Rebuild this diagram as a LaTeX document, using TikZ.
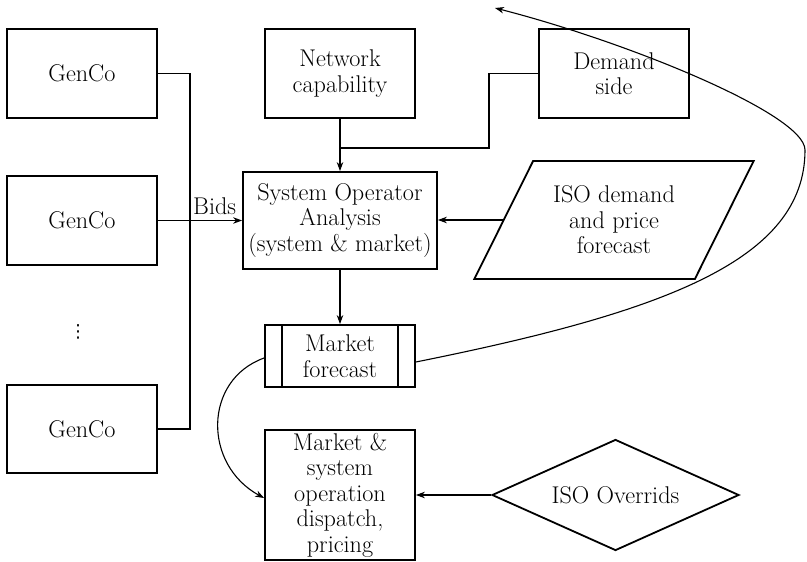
\documentclass[tikz,border=0pt]{standalone}
\usepackage{fontspec}
\usetikzlibrary{arrows.meta,shapes.geometric}
\newfontfamily\dotsfont{DejaVu Sans}
\newcommand{\diagfont}{\fontsize{24.2}{25.5}\selectfont}
\begin{document}
\begin{tikzpicture}[x=1pt,y=-1pt,
  box/.style={draw,line width=1.8pt,minimum width=150pt,minimum height=89pt,align=center,inner sep=0pt,font=\diagfont},
  conn/.style={line width=1.1pt},
  arr/.style={conn,-{Stealth[length=9pt,width=6.5pt]}}]
\useasboundingbox (0,0) rectangle (807,562);
% nodes
\node[box] (g1) at (82,73.5) {GenCo};
\node[box] (g2) at (82,220.5) {GenCo};
\node[box,minimum height=88pt] (g3) at (82,429) {GenCo};
\node[font={\dotsfont\fontsize{18}{20}\selectfont},inner sep=0pt] (dots) at (78,332) {⋮};
\node[box] (net) at (340,73.5) {Network\\capability};
\node[box] (dem) at (614,73.5) {Demand\\side};
\node[box,minimum width=194pt,minimum height=97pt] (so) at (340,220.5) {System Operator\\Analysis\\(system \& market)};
\node[draw,line width=1.8pt,trapezium,trapezium left angle=57,trapezium right angle=123,
      trapezium stretches=true,minimum width=280pt,minimum height=118pt,inner sep=0pt,
      align=center,font=\diagfont] (iso) at (614,220) {ISO demand\\and price\\forecast};
\node[box,minimum height=62pt] (mf) at (340,356) {Market\\forecast};
\draw[line width=1.8pt] ([xshift=18pt]mf.north west) -- ([xshift=18pt]mf.south west);
\draw[line width=1.8pt] ([xshift=-18pt]mf.north east) -- ([xshift=-18pt]mf.south east);
\node[box,minimum height=130pt] (ms) at (340,495) {Market \&\\system\\operation\\dispatch,\\pricing};
\node[draw,diamond,line width=1.8pt,aspect=2.2,minimum width=247pt,minimum height=111pt,
      inner sep=0pt,font=\diagfont] (ovr) at (615.5,495) {ISO Overrids};
% connectors
\coordinate (bus) at (190,0);
\draw[conn] (g1.east) -| (bus |- g3.east) -- (g3.east);
\draw[arr] (g2.east) -- node[pos=0.674,above,inner sep=5pt,font=\diagfont] {Bids} (so.west);
\draw[arr] (net.south) -- (so.north);
\coordinate (j) at (340,148);
\coordinate (k) at (489,148);
\draw[conn] (dem.west) -| (k) -- (j);
\draw[arr] (iso.west) -- (so.east |- iso.west);
\draw[arr] (so.south) -- (mf.north);
\draw[arr] (ovr.west) -- (ms.east);
\draw[arr] ([yshift=-2pt]mf.west) .. controls (203,380) and (203,465) .. ([yshift=-3pt]ms.west);
\coordinate (tip) at (495,8);
\draw[arr] ([yshift=-6pt]mf.east) .. controls (665,312) and (805,260) .. (805,150)
  .. controls (805,114) and (626,41.5) .. (tip);
\end{tikzpicture}
\end{document}
